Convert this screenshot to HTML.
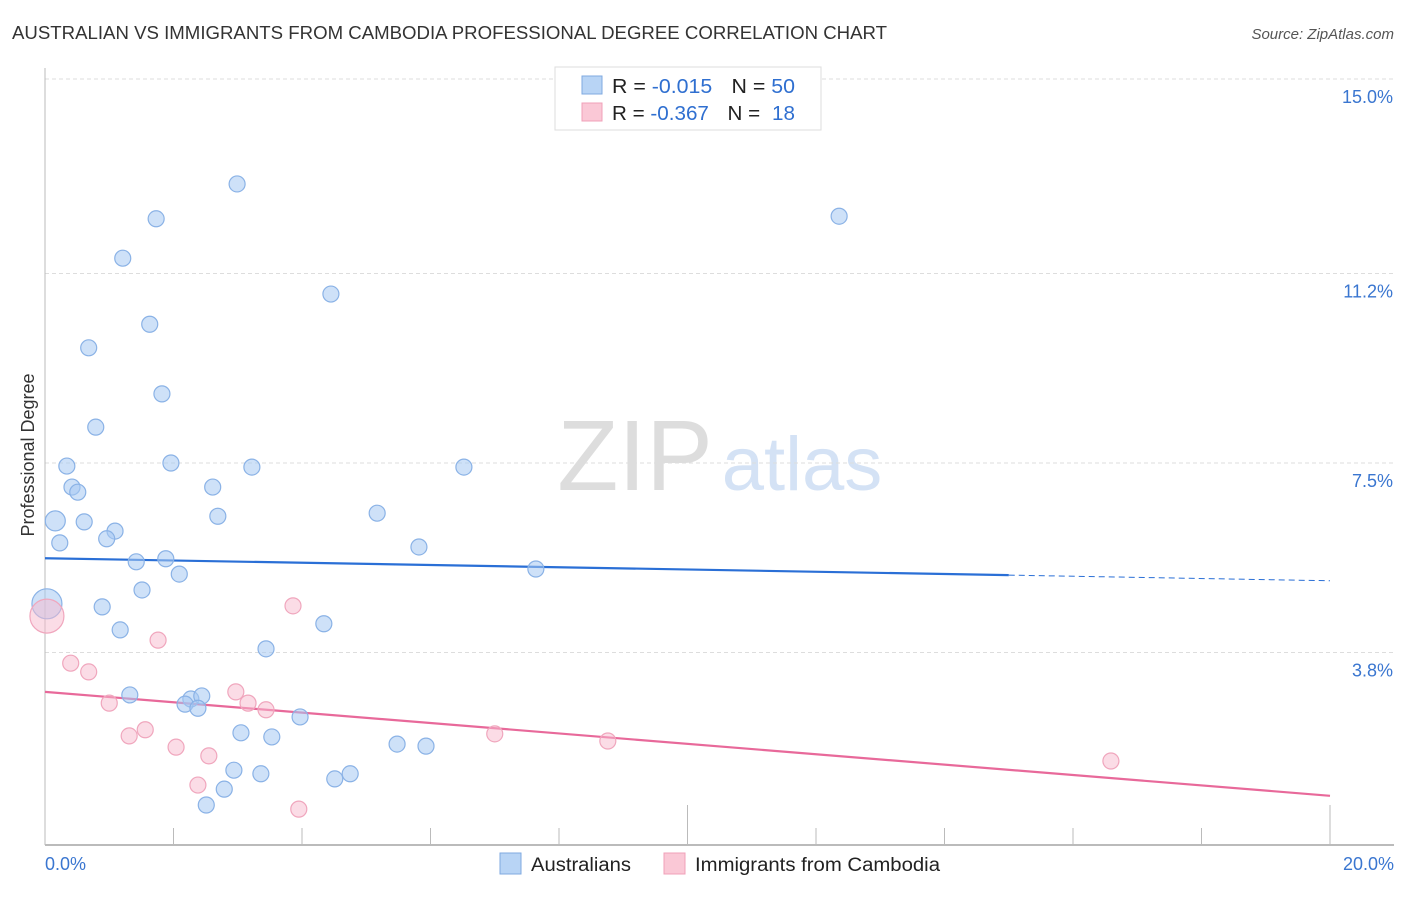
<!DOCTYPE html>
<html><head><meta charset="utf-8"><style>
body{margin:0;background:#fff;font-family:"Liberation Sans",sans-serif}
svg text{font-family:"Liberation Sans",sans-serif}
</style></head><body>
<svg width="1406" height="892" xmlns="http://www.w3.org/2000/svg">
<text x="12" y="39" font-size="18" fill="#333" textLength="875" lengthAdjust="spacingAndGlyphs">AUSTRALIAN VS IMMIGRANTS FROM CAMBODIA PROFESSIONAL DEGREE CORRELATION CHART</text>
<text x="1394" y="39" font-size="15" fill="#555" font-style="italic" text-anchor="end">Source: ZipAtlas.com</text>
<g>
<text x="635" y="490" font-size="100" fill="#ddd" font-family="Liberation Serif" text-anchor="middle">ZIP</text>
<text x="802" y="490" font-size="76" fill="#d4e2f5" text-anchor="middle">atlas</text>
</g>
<g id="grid"></g>
<g id="axes"></g>
<text transform="translate(34,455) rotate(-90)" font-size="18" fill="#333" text-anchor="middle">Professional Degree</text>
<g id="trend"></g>
<g id="pts"></g>
<g>
<rect x="555" y="67" width="266" height="63" fill="#fff" stroke="#ddd"/>
<rect x="582" y="76" width="20" height="18" fill="#b8d4f5" stroke="#7faae0"/>
<rect x="582" y="103" width="20" height="18" fill="#fac8d6" stroke="#f0a0b8"/>
<text x="612" y="93" font-size="20" fill="#222" textLength="183" lengthAdjust="spacingAndGlyphs">R = <tspan fill="#2f6fd0">-0.015</tspan><tspan dx="18">N = </tspan><tspan fill="#2f6fd0">50</tspan></text>
<text x="612" y="120" font-size="20" fill="#222" textLength="183" lengthAdjust="spacingAndGlyphs">R = <tspan fill="#2f6fd0">-0.367</tspan><tspan dx="18">N = </tspan><tspan fill="#2f6fd0" dx="6">18</tspan></text>
</g>
<g>
<rect x="500" y="853" width="21" height="21" fill="#b8d4f5" stroke="#7faae0"/>
<text x="531" y="871" font-size="19" fill="#222" textLength="100" lengthAdjust="spacingAndGlyphs">Australians</text>
<rect x="664" y="853" width="21" height="21" fill="#fac8d6" stroke="#f0a0b8"/>
<text x="695" y="871" font-size="19" fill="#222" textLength="245" lengthAdjust="spacingAndGlyphs">Immigrants from Cambodia</text>
</g>
</svg>
<script>
const yTicks=[3.8,7.5,11.2,15.0];
const yTickLabels=["3.8%","7.5%","11.2%","15.0%"];
const xTickLabels=["0.0%","20.0%"];
const blueX=[2.99,1.73,12.36,1.21,4.45,1.63,0.68,1.82,0.79,0.34,1.96,3.22,6.52,0.42,0.51,2.61,2.69,5.17,0.16,0.61,1.09,0.96,0.23,5.82,1.42,1.88,7.64,2.09,1.51,0.03,0.89,4.34,1.17,3.44,1.32,2.27,2.44,2.18,2.38,3.97,3.05,3.53,5.48,5.93,2.94,3.36,4.75,4.51,2.79,2.51];
const blueY=[12.95,12.27,12.32,11.50,10.80,10.21,9.75,8.85,8.20,7.44,7.50,7.42,7.42,7.03,6.93,7.03,6.46,6.52,6.37,6.35,6.17,6.02,5.94,5.86,5.57,5.63,5.43,5.33,5.02,4.75,4.69,4.36,4.24,3.87,2.97,2.89,2.95,2.79,2.71,2.54,2.23,2.15,2.01,1.97,1.50,1.43,1.43,1.33,1.13,0.82];
const pinkX=[0.03,3.86,1.76,0.40,0.68,2.97,1.00,3.16,3.44,1.56,1.31,2.04,2.55,7.00,8.76,2.38,3.95,16.59];
const pinkY=[4.51,4.71,4.04,3.59,3.42,3.03,2.81,2.81,2.68,2.29,2.17,1.95,1.78,2.21,2.07,1.21,0.74,1.68];
const blueTrend=[5.64,5.20];
const pinkTrend=[3.03,1.0];
const NS="http://www.w3.org/2000/svg";
const X=v=>45+v/20*1285, Y=v=>847-v/15*768;
function mk(tag,attrs,parent){const e=document.createElementNS(NS,tag);for(const k in attrs)e.setAttribute(k,attrs[k]);document.getElementById(parent).appendChild(e);return e;}
yTicks.forEach((t,i)=>{
 const l=mk('line',{x1:45,x2:1394,y1:Y(t),y2:Y(t),stroke:'#ddd','stroke-dasharray':'4,3'},'grid');
 
 
 const tx=mk('text',{x:1393,y:Y(t)+24,'font-size':18,fill:'#3a76d0','text-anchor':'end'},'grid');
 tx.textContent=yTickLabels[i];
 
 
});
const ax=mk('line',{x1:45,x2:1394,y1:845,y2:845,stroke:'#bbb','stroke-width':2},'axes');


const ay=mk('line',{x1:45,x2:45,y1:68,y2:845,stroke:'#bbb'},'axes');


for(let i=1;i<=10;i++){
 const v=i*2;const tl=mk('line',{x1:X(v),x2:X(v),y1:(i==5||i==10)?805:828,y2:845,stroke:'#bbb'},'axes');
 
 
}
[[0,'start',45],[20,'end',1394]].forEach((d,i)=>{
 const t=mk('text',{x:d[2],y:870,'font-size':18,fill:'#3a76d0','text-anchor':d[1]},'axes');
 t.textContent=xTickLabels[i];
 
 
});
function pt(x,y,r,fill,stroke,name){
 const c=mk('circle',{cx:X(x),cy:Y(y),r:r,fill:fill,stroke:stroke,'stroke-width':1.2},'pts');
 
 
}
blueX.forEach((x,i)=>pt(x,blueY[i],i==29?15:(i==18?10:8),'rgba(165,200,242,0.55)','#8ab2e6','australians-point'));
pinkX.forEach((x,i)=>pt(x,pinkY[i],i==0?17:8,'rgba(248,185,205,0.5)','#f0a6bd','cambodia-point'));
const bxEnd=15.0;
const byAt=x=>blueTrend[0]+(blueTrend[1]-blueTrend[0])*x/20;
const b1=mk('line',{x1:X(0),y1:Y(blueTrend[0]),x2:X(bxEnd),y2:Y(byAt(bxEnd)),stroke:'#2a6fd6','stroke-width':2.2},'trend');


const b2=mk('line',{x1:X(bxEnd),y1:Y(byAt(bxEnd)),x2:X(20),y2:Y(blueTrend[1]),stroke:'#2a6fd6','stroke-width':1,'stroke-dasharray':'6,4'},'trend');


const p1=mk('line',{x1:X(0),y1:Y(pinkTrend[0]),x2:X(20),y2:Y(pinkTrend[1]),stroke:'#e8699a','stroke-width':2.2},'trend');


</script>
</body></html>
